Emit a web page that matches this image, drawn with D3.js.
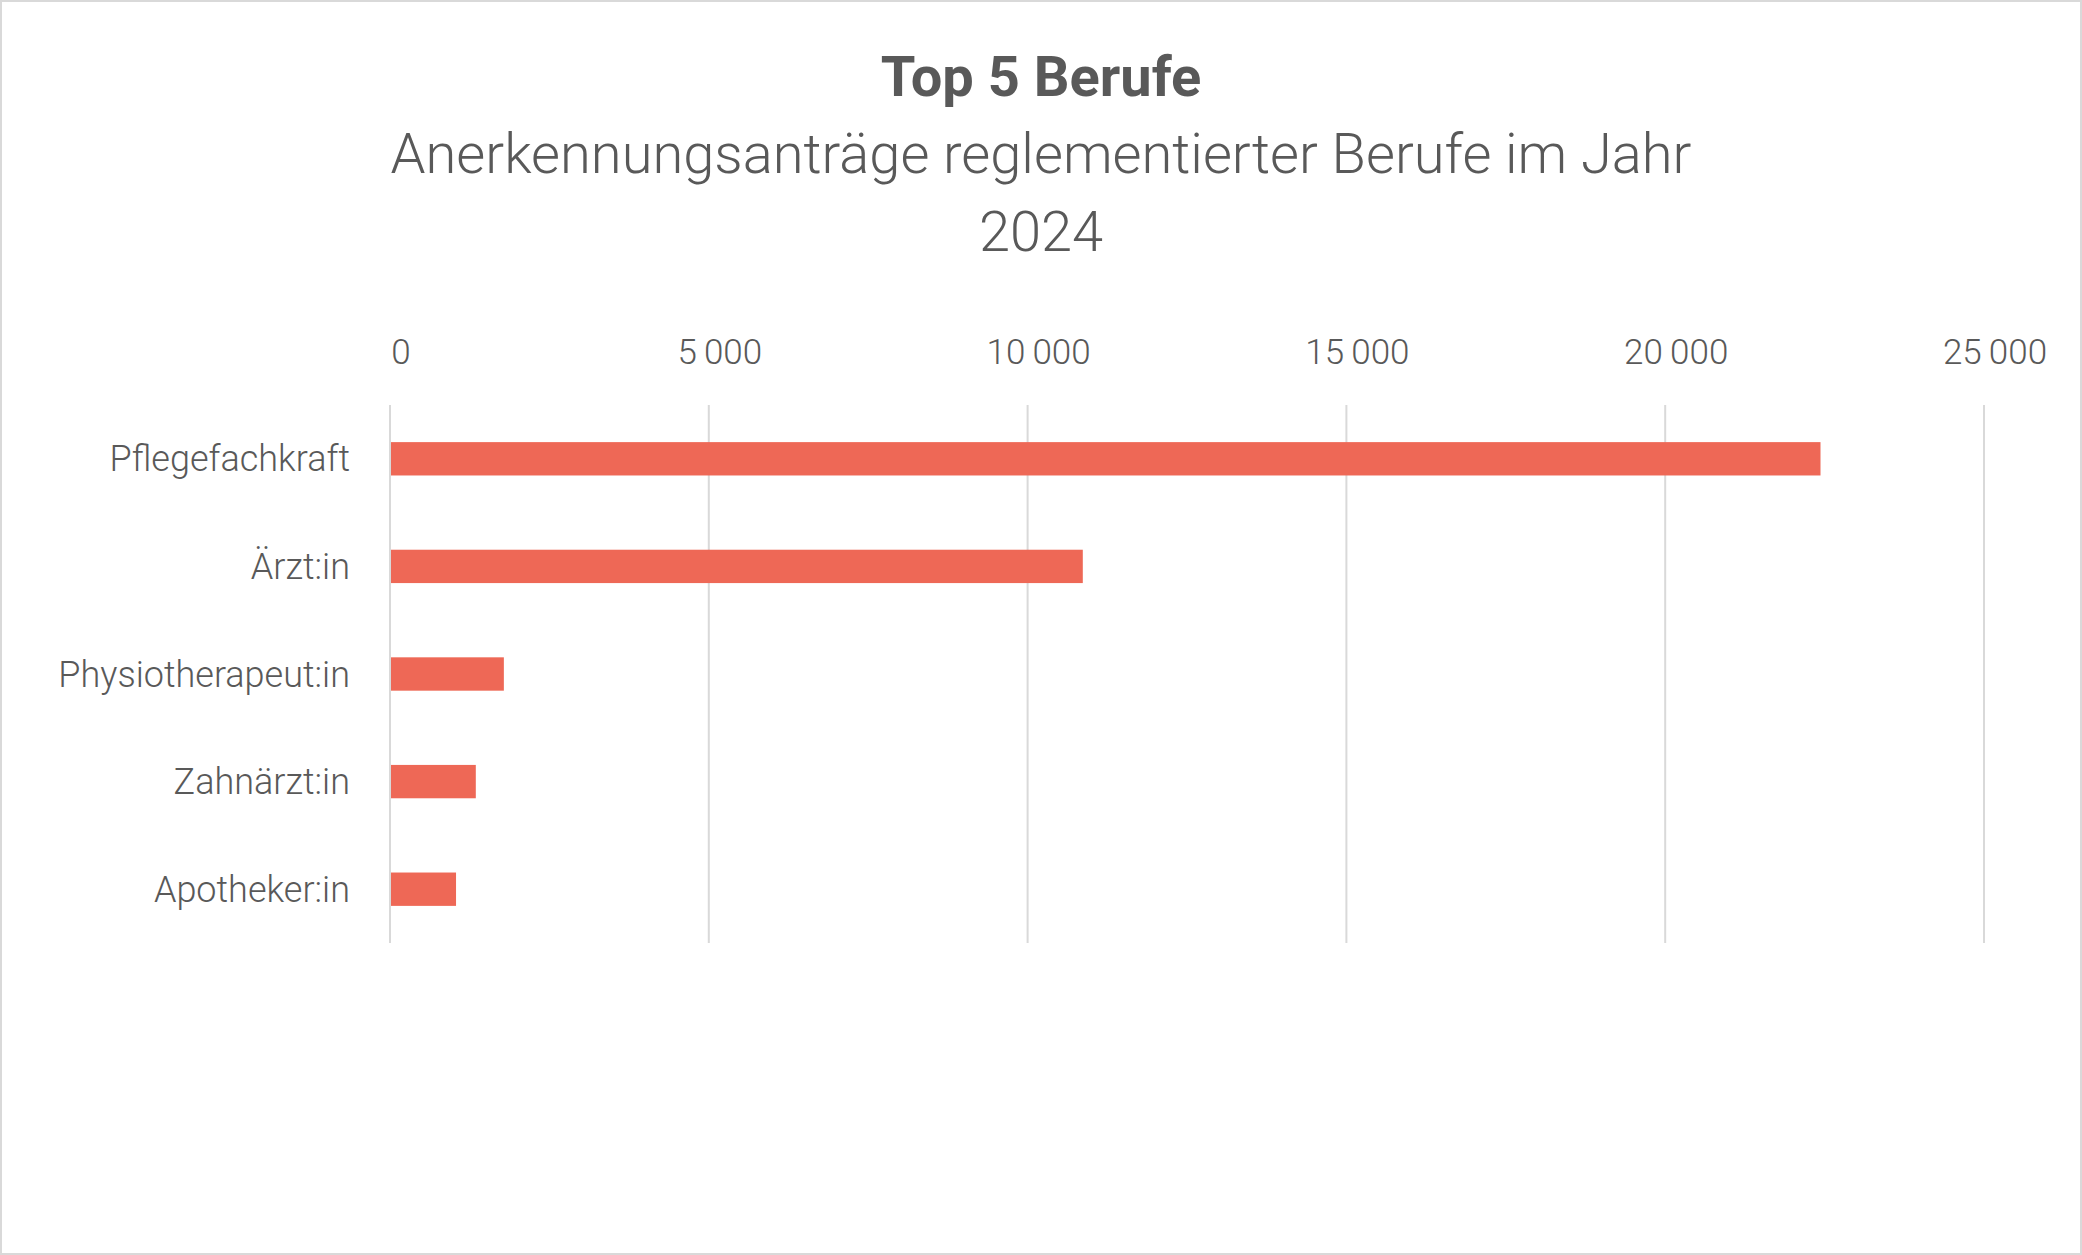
<!DOCTYPE html>
<html><head><meta charset="utf-8">
<script src="https://cdn.jsdelivr.net/npm/d3@7"></script>
<style>body{margin:0;background:#fff}svg{font-family:Roboto,sans-serif}</style>
</head><body><div id="chart"></div>
<script>
const berufe = ["Pflegefachkraft", "Ärzt:in", "Physiotherapeut:in", "Zahnärzt:in", "Apotheker:in"];
const antraege = [22420, 10850, 1770, 1330, 1020];
const ticks = [0, 5000, 10000, 15000, 20000, 25000];

const W = 2082, H = 1255;
const svg = d3.select("#chart").append("svg").attr("width", W).attr("height", H);
svg.append("rect").attr("x", 1).attr("y", 1).attr("width", W - 2).attr("height", H - 2)
    .attr("fill", "#fff").attr("stroke", "#d9d9d9").attr("stroke-width", 2);

// titles
svg.append("text").attr("x", 1041).attr("y", 96).attr("text-anchor", "middle")
    .attr("font-size", 56).attr("font-weight", "bold").attr("fill", "#595959").text("Top 5 Berufe");
svg.append("text").attr("x", 1041).attr("y", 173).attr("text-anchor", "middle")
    .attr("font-size", 56).attr("font-weight", 300).attr("fill", "#595959")
    .text("Anerkennungsanträge reglementierter Berufe im Jahr");
svg.append("text").attr("x", 1041).attr("y", 251).attr("text-anchor", "middle")
    .attr("font-size", 56).attr("font-weight", 300).attr("fill", "#595959").text("2024");

const x = d3.scaleLinear().domain([0, 25000]).range([390, 1984]);
const y = d3.scaleBand().domain(berufe).range([405, 943]).paddingInner(0.69).paddingOuter(0.345);
const fmt = d => d3.format(",")(d).replace(/,/g, "\u2009");

// gridlines
svg.append("g").selectAll("line").data(ticks).enter().append("line")
    .attr("x1", d => x(d)).attr("x2", d => x(d)).attr("y1", 405).attr("y2", 943)
    .attr("stroke", "#d9d9d9").attr("stroke-width", 2);

// top axis labels
svg.append("g").selectAll("text").data(ticks).enter().append("text")
    .attr("x", d => x(d) + 11).attr("y", 364).attr("text-anchor", "middle")
    .attr("font-size", 35).attr("font-weight", 300).attr("fill", "#595959").text(fmt);

// bars
svg.append("g").selectAll("rect").data(berufe).enter().append("rect")
    .attr("x", x(0) + 1).attr("y", d => y(d))
    .attr("width", (d, i) => x(antraege[i]) - x(0)).attr("height", y.bandwidth())
    .attr("fill", "#ee6856");

// category labels
svg.append("g").selectAll("text").data(berufe).enter().append("text")
    .attr("x", 350).attr("y", d => y(d) + y.bandwidth() / 2).attr("dy", "0.35em")
    .attr("text-anchor", "end").attr("font-size", 36).attr("font-weight", 300)
    .attr("fill", "#595959").text(d => d);
</script></body></html>
